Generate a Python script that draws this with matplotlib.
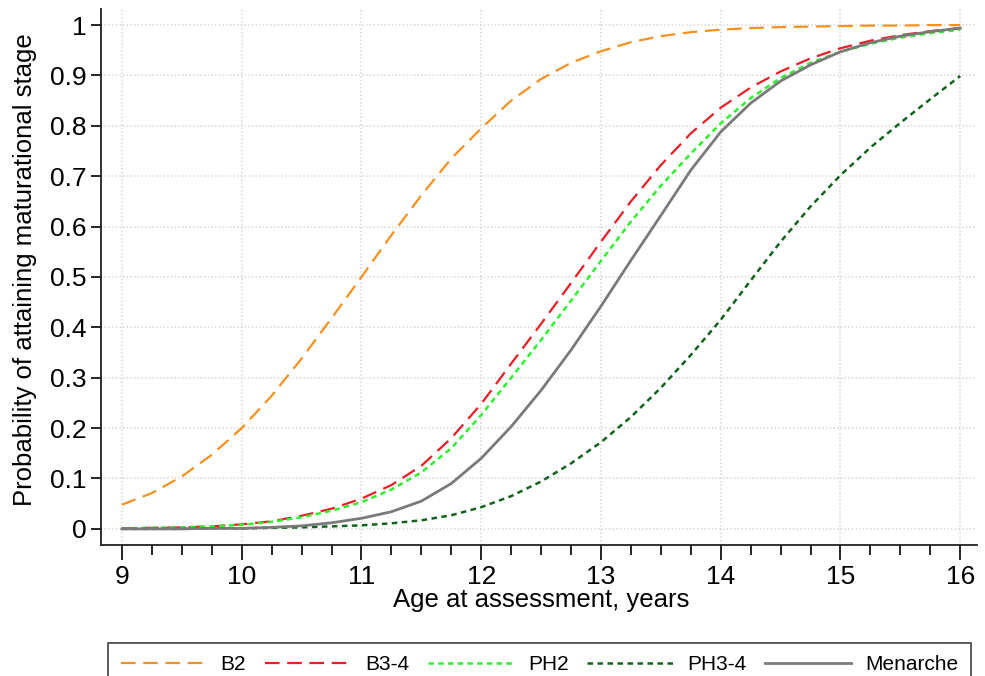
#!/usr/bin/env python3
"""
Probability of attaining each maturational stage by age at assessment.
"""
import matplotlib
matplotlib.use("Agg")
import matplotlib.pyplot as plt
from matplotlib.ticker import MultipleLocator, FormatStrFormatter

plt.rcParams['font.family'] = ['Liberation Sans', 'DejaVu Sans']
plt.rcParams['lines.scale_dashes'] = False

# Values (0.25-year steps)
ages = [9.0, 9.25, 9.5, 9.75, 10.0, 10.25, 10.5, 10.75, 11.0, 11.25, 11.5, 11.75,
        12.0, 12.25, 12.5, 12.75, 13.0, 13.25, 13.5, 13.75, 14.0, 14.25, 14.5,
        14.75, 15.0, 15.25, 15.5, 15.75, 16.0]

b2 = [0.048, 0.071, 0.104, 0.147, 0.200, 0.264, 0.338, 0.418, 0.500, 0.583,
      0.662, 0.735, 0.795, 0.850, 0.893, 0.925, 0.948, 0.966, 0.978, 0.986,
      0.991, 0.994, 0.996, 0.997, 0.998, 0.999, 0.999, 1.000, 1.000]

b34 = [0.001, 0.002, 0.003, 0.005, 0.009, 0.015, 0.026, 0.040, 0.060, 0.087,
       0.125, 0.180, 0.248, 0.328, 0.407, 0.488, 0.570, 0.650, 0.722, 0.785,
       0.836, 0.876, 0.908, 0.934, 0.954, 0.969, 0.980, 0.988, 0.994]

ph2 = [0.001, 0.002, 0.003, 0.005, 0.008, 0.014, 0.023, 0.036, 0.053, 0.078,
       0.112, 0.160, 0.226, 0.300, 0.375, 0.453, 0.532, 0.610, 0.681, 0.745,
       0.805, 0.855, 0.895, 0.925, 0.947, 0.963, 0.975, 0.984, 0.991]

ph34 = [0.000, 0.000, 0.000, 0.001, 0.001, 0.002, 0.003, 0.005, 0.007, 0.011,
        0.017, 0.027, 0.043, 0.065, 0.094, 0.130, 0.172, 0.222, 0.280, 0.345,
        0.415, 0.493, 0.570, 0.640, 0.702, 0.757, 0.806, 0.853, 0.899]

menarche = [0.000, 0.000, 0.000, 0.001, 0.001, 0.003, 0.006, 0.012, 0.021, 0.034,
            0.055, 0.090, 0.140, 0.203, 0.275, 0.355, 0.442, 0.533, 0.622, 0.712,
            0.788, 0.845, 0.889, 0.921, 0.947, 0.965, 0.978, 0.987, 0.994]

series = [
    ('B2', b2, '#F7901E', 1.6, (0, (10.5, 5.5))),
    ('B3-4', b34, '#EE1C24', 1.6, (0, (10.5, 5.5))),
    ('PH2', ph2, '#2EF22E', 1.8, (0, (4.0, 3.0))),
    ('PH3-4', ph34, '#11641A', 1.8, (0, (4.0, 3.2))),
    ('Menarche', menarche, '#7A7A7A', 2.0, '-'),
]

fig = plt.figure(figsize=(9.85, 6.76), dpi=100)
ax = fig.add_axes([0.1025, 0.1938, 0.8894, 0.7922])

for label, vals, color, lw, ls in series:
    ax.plot(ages, vals, color=color, linewidth=lw, linestyle=ls, label=label)

ax.set_xlim(8.825, 16.14)
ax.set_ylim(-0.032, 1.031)
ax.xaxis.set_major_locator(MultipleLocator(1))
ax.xaxis.set_minor_locator(MultipleLocator(0.25))
ax.yaxis.set_major_locator(MultipleLocator(0.1))
ax.yaxis.set_major_formatter(FormatStrFormatter('%g'))

ax.grid(True, which='major', color='#D4D4D4', linestyle=':', linewidth=1.1)
ax.set_axisbelow(True)

for side in ['top', 'right']:
    ax.spines[side].set_visible(False)
for side in ['left', 'bottom']:
    ax.spines[side].set_linewidth(1.3)
    ax.spines[side].set_color('#222222')

ax.tick_params(axis='x', which='major', direction='out', length=10.5, width=1.2,
               pad=4, labelsize=19)
ax.tick_params(axis='x', which='minor', direction='out', length=7.5, width=1.2)
ax.tick_params(axis='y', which='major', direction='out', length=7, width=1.2,
               pad=3.5, labelsize=19)

ax.set_xlabel("Age at assessment, years", fontsize=18.5)
ax.set_ylabel("Probability of attaining maturational stage", fontsize=18.5)
ax.xaxis.set_label_coords(0.502, -0.08)
ax.yaxis.set_label_coords(-0.073, 0.514)

leg = fig.legend(loc='upper left',
                 bbox_to_anchor=(108 / 985, 1 - 643 / 676 - 0.01, 863 / 985, 0.01),
                 mode='expand', ncol=5, fontsize=15, frameon=True, fancybox=False,
                 edgecolor='#111111', handlelength=4.1, handletextpad=0.7,
                 borderpad=0.6, borderaxespad=0)
leg.get_frame().set_linewidth(1.2)

plt.savefig("out.png", dpi=100)
plt.close()
